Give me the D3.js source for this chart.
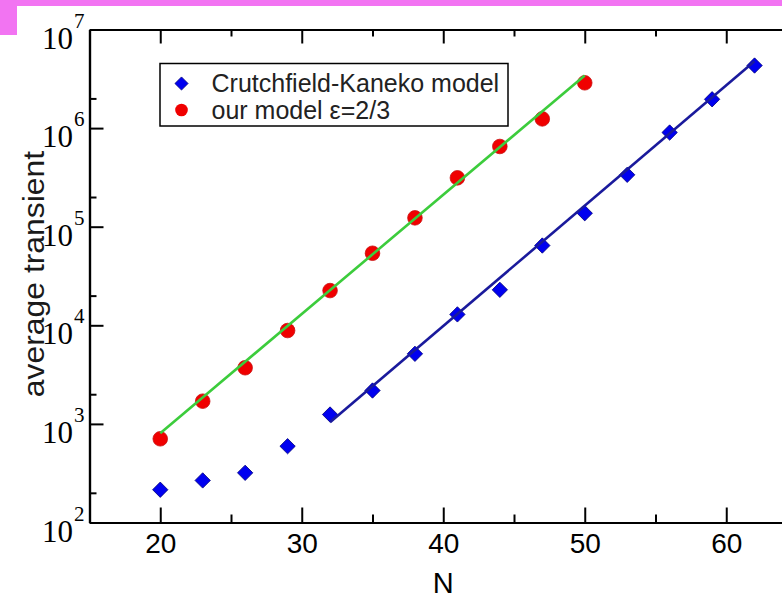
<!DOCTYPE html>
<meta charset="utf-8">
<script src="https://d3js.org/d3.v7.min.js"></script>
<style>
body { margin: 0; background: #fff; }
text { font-family: "Liberation Sans", Arial, sans-serif; }
.decade { font-family: "Liberation Serif", "Times New Roman", serif; }
</style>

<svg id="chart" width="782" height="600"></svg>

<script>
// Crutchfield-Kaneko model (blue diamonds)
var nCK = [20, 23, 26, 29, 32, 35, 38, 41, 44, 47, 50, 53, 56, 59, 62];
var tCK = [215, 267, 319, 594, 1245, 2180, 5140, 12900, 22900, 64400, 137000, 336000, 902000, 1.96e6, 4.31e6];

// our model eps=2/3 (red circles)
var nOur = [20, 23, 26, 29, 32, 35, 38, 41, 44, 47, 50];
var tOur = [706, 1700, 3710, 8850, 22500, 53800, 123000, 313000, 651000, 1.24e6, 2.88e6];

// exponential fits (straight lines on log scale)
var fitCKN = [32, 62], fitCKT = [1040, 4.76e6];
var fitOurN = [20, 50], fitOurT = [805, 3.41e6];

// ticks
var xMajor = [20, 30, 40, 50, 60];
var xMinor = [25, 35, 45, 55];
var yMajor = [1e2, 1e3, 1e4, 1e5, 1e6, 1e7];
var yMinor = [2e2, 2e3, 2e4, 2e5, 2e6];

var legendLabels = ["Crutchfield-Kaneko model", "our model \u03b5=2/3"];

var svg = d3.select("svg");

// pinkish scan leftovers at the top of the figure
svg.append("rect").attr("x", 0).attr("y", 0).attr("width", 782).attr("height", 6).attr("fill", "#f274f2");
svg.append("rect").attr("x", 0).attr("y", 0).attr("width", 17).attr("height", 35).attr("fill", "#f274f2");

var x = d3.scaleLinear().domain([15, 65]).range([89.5, 797]);
var y = d3.scaleLog().domain([1e2, 1e7]).range([522.5, 29.5]);

// frame + ticks (ticks point inward)
function styleAxis(g) {
  g.selectAll("path, line").attr("stroke", "#000").attr("stroke-width", 2);
  g.select(".domain").attr("stroke-width", 2.2);
}

var bottom = svg.append("g").attr("transform", "translate(0,522.5)")
  .call(d3.axisBottom(x).tickValues(xMajor).tickSize(-15).tickSizeOuter(0).tickPadding(10.5));
bottom.selectAll("text").attr("font-size", 28).attr("fill", "#000")
  .style("font-family", "'Liberation Sans', Arial, sans-serif");
styleAxis(bottom);
svg.append("g").attr("transform", "translate(0,522.5)")
  .call(d3.axisBottom(x).tickValues(xMinor).tickSize(-8).tickSizeOuter(0).tickFormat(""))
  .call(styleAxis);

svg.append("g").attr("transform", "translate(0,29.5)")
  .call(d3.axisTop(x).tickValues(xMajor).tickSize(-14).tickSizeOuter(0).tickFormat(""))
  .call(styleAxis);
svg.append("g").attr("transform", "translate(0,29.5)")
  .call(d3.axisTop(x).tickValues(xMinor).tickSize(-7).tickSizeOuter(0).tickFormat(""))
  .call(styleAxis);

svg.append("g").attr("transform", "translate(89.5,0)")
  .call(d3.axisLeft(y).tickValues(yMajor).tickSize(-14).tickSizeOuter(0).tickFormat(""))
  .call(styleAxis);
svg.append("g").attr("transform", "translate(89.5,0)")
  .call(d3.axisLeft(y).tickValues(yMinor).tickSize(-7).tickSizeOuter(0).tickFormat(""))
  .call(styleAxis);

svg.append("g").attr("transform", "translate(797,0)")
  .call(d3.axisRight(y).tickValues(yMajor).tickSize(-15).tickSizeOuter(0).tickFormat(""))
  .call(styleAxis);

// 10^n labels
var dec = svg.append("g").selectAll("text").data(yMajor).enter()
  .append("text")
  .attr("class", "decade")
  .attr("x", 42)
  .attr("y", d => y(d) + 19)
  .attr("font-size", 31)
  .attr("fill", "#000");
dec.append("tspan").text("10");
dec.append("tspan")
  .attr("font-size", 21)
  .attr("dy", -21)
  .attr("dx", 1)
  .text(d => Math.round(Math.log10(d)));

// axis titles
svg.append("text")
  .attr("x", x(40))
  .attr("y", 593)
  .attr("text-anchor", "middle")
  .attr("font-size", 29)
  .attr("fill", "#000")
  .text("N");

svg.append("text")
  .attr("transform", "translate(44,274) rotate(-90) scale(1.1,1)")
  .attr("text-anchor", "middle")
  .attr("font-size", 29)
  .attr("fill", "#1a1a1a")
  .text("average transient");

// data
var diamond = d3.symbol().type(d3.symbolDiamond2).size(150);

svg.append("g").selectAll("path").data(nCK).enter()
  .append("path")
  .attr("d", diamond)
  .attr("transform", (d, i) => "translate(" + x(d) + "," + y(tCK[i]) + ")")
  .attr("fill", "#0000f0")
  .attr("stroke", "#00007a")
  .attr("stroke-width", 0.8);

svg.append("g").selectAll("circle").data(nOur).enter()
  .append("circle")
  .attr("cx", d => x(d))
  .attr("cy", (d, i) => y(tOur[i]))
  .attr("r", 7.3)
  .attr("fill", "#f00000")
  .attr("stroke", "#c81010")
  .attr("stroke-width", 0.8);

var line = d3.line().x(d => x(d[0])).y(d => y(d[1]));

svg.append("path")
  .datum(fitOurN.map((n, i) => [n, fitOurT[i]]))
  .attr("d", line)
  .attr("fill", "none")
  .attr("stroke", "#3ccc3c")
  .attr("stroke-width", 2.6);

svg.append("path")
  .datum(fitCKN.map((n, i) => [n, fitCKT[i]]))
  .attr("d", line)
  .attr("fill", "none")
  .attr("stroke", "#1a1a9c")
  .attr("stroke-width", 2.6);

// legend
var lg = svg.append("g");
lg.append("rect")
  .attr("x", 160).attr("y", 63.5)
  .attr("width", 348).attr("height", 62.5)
  .attr("fill", "#fff")
  .attr("stroke", "#000")
  .attr("stroke-width", 1.5);

lg.append("path")
  .attr("d", d3.symbol().type(d3.symbolDiamond2).size(110))
  .attr("transform", "translate(181.5,83.5)")
  .attr("fill", "#0000f0")
  .attr("stroke", "#00007a")
  .attr("stroke-width", 0.8);
lg.append("circle")
  .attr("cx", 181.5).attr("cy", 110)
  .attr("r", 6.3)
  .attr("fill", "#f00000");

lg.selectAll("text").data(legendLabels).enter()
  .append("text")
  .attr("x", 211.5)
  .attr("y", (d, i) => 92 + i * 26.5)
  .attr("font-size", 25)
  .attr("fill", "#222")
  .text(d => d);
</script>
